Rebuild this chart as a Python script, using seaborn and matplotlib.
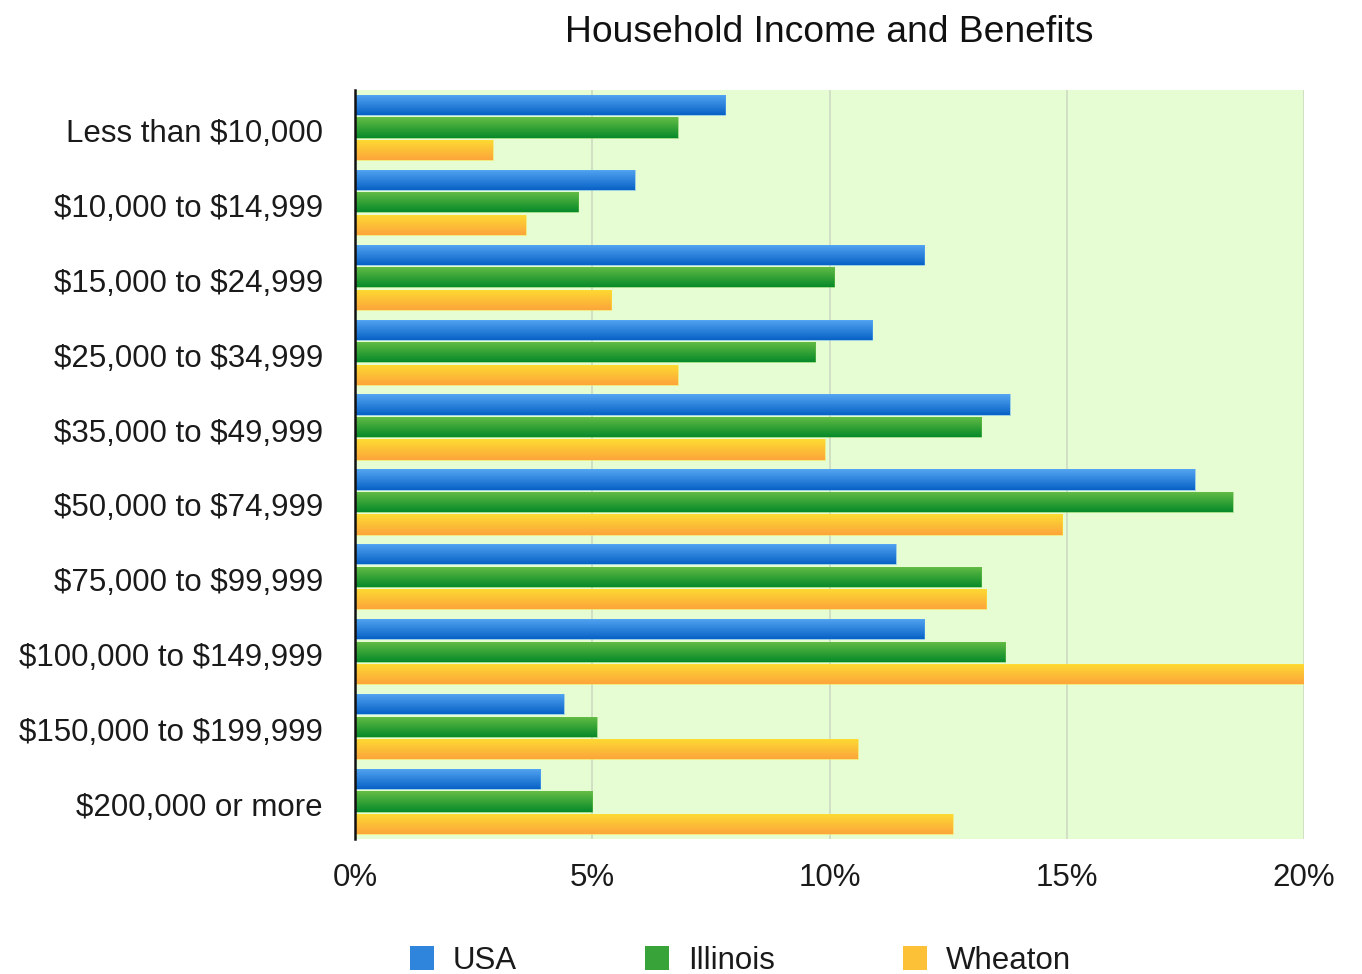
import numpy as np
import pandas as pd
import matplotlib
matplotlib.use("Agg")
import matplotlib.pyplot as plt
from matplotlib.colors import to_rgba
from matplotlib.patches import Patch
from matplotlib.transforms import ScaledTranslation
import seaborn as sns

# Income brackets and share of households (%) per region
brackets = [
    "Less than $10,000",
    "$10,000 to $14,999",
    "$15,000 to $24,999",
    "$25,000 to $34,999",
    "$35,000 to $49,999",
    "$50,000 to $74,999",
    "$75,000 to $99,999",
    "$100,000 to $149,999",
    "$150,000 to $199,999",
    "$200,000 or more",
]
usa = [7.8, 5.9, 12.0, 10.9, 13.8, 17.7, 11.4, 12.0, 4.4, 3.9]
illinois = [6.8, 4.7, 10.1, 9.7, 13.2, 18.5, 13.2, 13.7, 5.1, 5.0]
wheaton = [2.9, 3.6, 5.4, 6.8, 9.9, 14.9, 13.3, 20.0, 10.6, 12.6]
regions = ["USA", "Illinois", "Wheaton"]
x_ticks = [0, 5, 10, 15, 20]
x_tick_labels = ["0%", "5%", "10%", "15%", "20%"]

df = pd.DataFrame({
    "bracket": brackets * 3,
    "region": ["USA"] * len(brackets) + ["Illinois"] * len(brackets) + ["Wheaton"] * len(brackets),
    "share": usa + illinois + wheaton,
})

# light (top) and dark (bottom) tones for the glossy bars
tones = {
    "USA": ("#55a6f2", "#0862c6"),
    "Illinois": ("#66bd45", "#078a2a"),
    "Wheaton": ("#fedc32", "#fca53b"),
}
mid = {k: tuple((np.array(to_rgba(a)) + np.array(to_rgba(b))) / 2) for k, (a, b) in tones.items()}

sns.set_theme(style="white")
plt.rcParams["font.family"] = ["Liberation Sans", "DejaVu Sans"]
plt.rcParams["text.parse_math"] = False

fig = plt.figure(figsize=(13.62, 9.74), dpi=100)
ax = fig.add_axes([355 / 1362, 1 - 839 / 974, 949 / 1362, 749 / 974])
ax.set_facecolor("#e6fcd2")

sns.barplot(data=df, x="share", y="bracket", hue="region", hue_order=regions,
            palette=mid, orient="h", width=0.9, gap=0.1, legend=False, ax=ax,
            saturation=1, zorder=3)

xlim = (0, 20)
ax.set_xlim(*xlim)
ylim = ax.get_ylim()

# paint each bar with a vertical gradient
for bar in list(ax.patches):
    if bar.get_width() == 0:
        continue
    fc = bar.get_facecolor()
    key = min(mid, key=lambda k: np.sum((np.array(mid[k]) - np.array(fc)) ** 2))
    top, bot = np.array(to_rgba(tones[key][0])), np.array(to_rgba(tones[key][1]))
    t = np.linspace(0, 1, 64)[:, None, None]
    grad = top[None, None, :] * (1 - t) + bot[None, None, :] * t
    x0, y0 = bar.get_x(), bar.get_y()
    w, h = bar.get_width(), bar.get_height()
    im = ax.imshow(grad, extent=(x0, x0 + w, y0 + h, y0), origin="upper",
                   aspect="auto", zorder=4, interpolation="bilinear")
    im.set_clip_path(bar)
    bar.set_facecolor("none")
    bar.set_edgecolor(to_rgba(tones[key][0], 0.6))
    bar.set_linewidth(0.6)
    bar.set_zorder(5)

ax.set_xlim(*xlim)
ax.set_ylim(*ylim)

ax.set_xticks(x_ticks)
ax.set_xticklabels(x_tick_labels)
ax.grid(axis="x", color="#cfdcc4", linewidth=1.3, zorder=1)
ax.grid(axis="y", visible=False)
ax.set_axisbelow(True)

for side in ["top", "right", "bottom"]:
    ax.spines[side].set_visible(False)
ax.spines["left"].set_color("#111111")
ax.spines["left"].set_linewidth(1.8)
ax.spines["left"].set_zorder(6)

ax.tick_params(axis="y", length=0, pad=23, labelsize=22.5, labelcolor="#1a1a1a")
ax.tick_params(axis="x", length=0, pad=17, labelsize=22.5, labelcolor="#1a1a1a")
ax.set_xlabel("")
ax.set_ylabel("")

# nudge category labels slightly downward
shift = ScaledTranslation(0, -3 / 100, fig.dpi_scale_trans)
for lbl in ax.get_yticklabels():
    lbl.set_transform(lbl.get_transform() + shift)

fig.text(829.5 / 1362, 1 - 33 / 974, "Household Income and Benefits",
         ha="center", va="center", fontsize=26.8, color="#111111")

handles = [Patch(facecolor=mid[r], edgecolor="none") for r in regions]
fig.legend(handles, regions, loc="center", bbox_to_anchor=(740.5 / 1362, 1 - 961 / 974),
           ncol=3, frameon=False, fontsize=22.5, handlelength=0.77, handleheight=0.77,
           handletextpad=0.6, columnspacing=4.1, labelcolor="#1a1a1a",
           borderpad=0, borderaxespad=0)

fig.savefig("out.png", dpi=100, facecolor="white")
